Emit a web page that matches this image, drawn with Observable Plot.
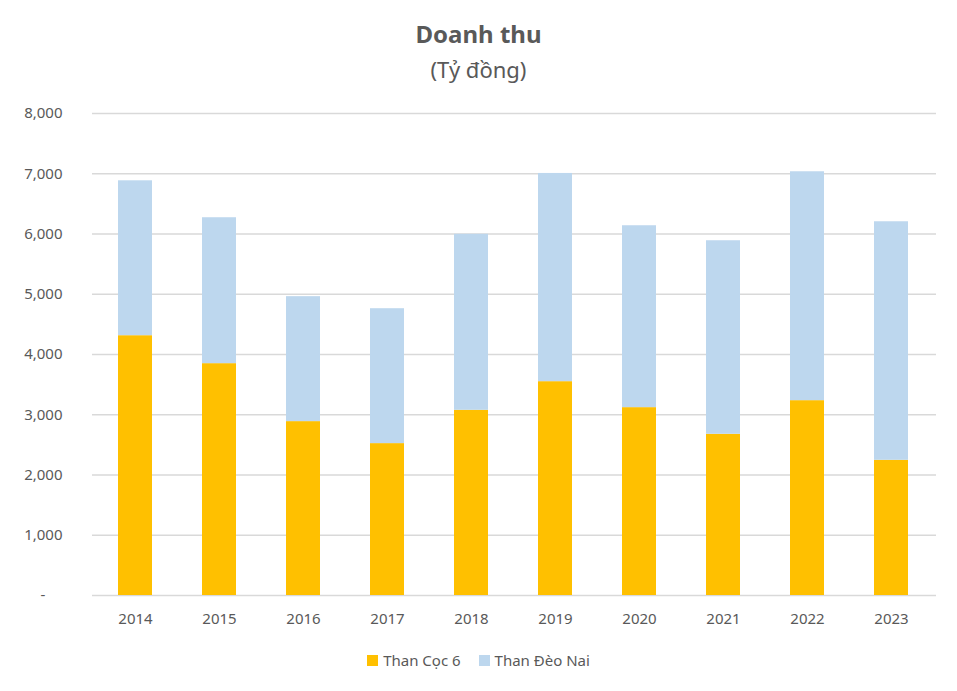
<!DOCTYPE html>
<html>
<head>
<meta charset="utf-8">
<script src="https://cdn.jsdelivr.net/npm/d3@7"></script>
<script src="https://cdn.jsdelivr.net/npm/@observablehq/plot@0.6"></script>
<style>
  body { margin: 0; background: #fff; font-family: "Noto Sans", sans-serif; color: #595959; }
  #wrap { width: 957px; }
  #title { height: 100px; text-align: center; position: relative; }
  #t1 { position: absolute; left: 0; right: 0; top: 19px; font-size: 24px; font-weight: bold; line-height: 30px; }
  #t2 { position: absolute; left: 0; right: 0; top: 54px; font-size: 22px; line-height: 30px; }
  #legend { height: 56px; display: flex; justify-content: center; align-items: flex-start; padding-top: 15px; box-sizing: border-box; font-size: 15px; }
  .item { display: flex; align-items: center; margin: 0 9px; }
  .sw { width: 11px; height: 11px; margin-right: 5px; }
  svg { display: block; }
</style>
</head>
<body>
<div id="wrap">
  <div id="title"><div id="t1">Doanh thu</div><div id="t2">(Tỷ đồng)</div></div>
  <div id="chart"></div>
  <div id="legend"></div>
</div>
<script>
const years = ["2014","2015","2016","2017","2018","2019","2020","2021","2022","2023"];
const seriesNames = ["Than Cọc 6", "Than Đèo Nai"];
const cocSau = [4312, 3848, 2886, 2521, 3074, 3549, 3118, 2676, 3234, 2244];
const deoNai = [2571, 2422, 2074, 2239, 2921, 3456, 3019, 3212, 3799, 3959];
const yTicks = [0, 1000, 2000, 3000, 4000, 5000, 6000, 7000, 8000];
const colors = ["#FFC000", "#BDD7EE"];

const table = [];
years.forEach((y, i) => {
  table.push({year: y, series: seriesNames[0], value: cocSau[i]});
  table.push({year: y, series: seriesNames[1], value: deoNai[i]});
});

const fmt = d3.format(",");
const chart = Plot.plot({
  width: 957,
  height: 535,
  marginTop: 13,
  marginLeft: 92,
  marginRight: 23,
  marginBottom: 40,
  style: {fontFamily: "Noto Sans, sans-serif", fontSize: "15px", color: "#595959", background: "#fff"},
  x: {domain: years, paddingInner: 0.6, paddingOuter: 0.29, label: null},
  y: {domain: [0, 8000], label: null},
  color: {domain: seriesNames, range: colors},
  marks: [
    Plot.ruleY(yTicks, {stroke: "#d9d9d9", strokeWidth: 1.5, insetRight: -2}),
    Plot.barY(table, {x: "year", y: "value", fill: "series", order: seriesNames}),
    Plot.axisY(yTicks, {tickSize: 0, tickPadding: 30, tickFormat: d => d === 0 ? "-\u2007\u2007" : fmt(d), fill: "#595959"}),
    Plot.axisX({tickSize: 0, tickPadding: 18, fill: "#595959"})
  ]
});
document.getElementById("chart").appendChild(chart);

const leg = document.getElementById("legend");
seriesNames.forEach((s, i) => {
  const it = document.createElement("div");
  it.className = "item";
  it.innerHTML = `<span class="sw" style="background:${colors[i]}"></span><span>${s}</span>`;
  leg.appendChild(it);
});
</script>
</body>
</html>
